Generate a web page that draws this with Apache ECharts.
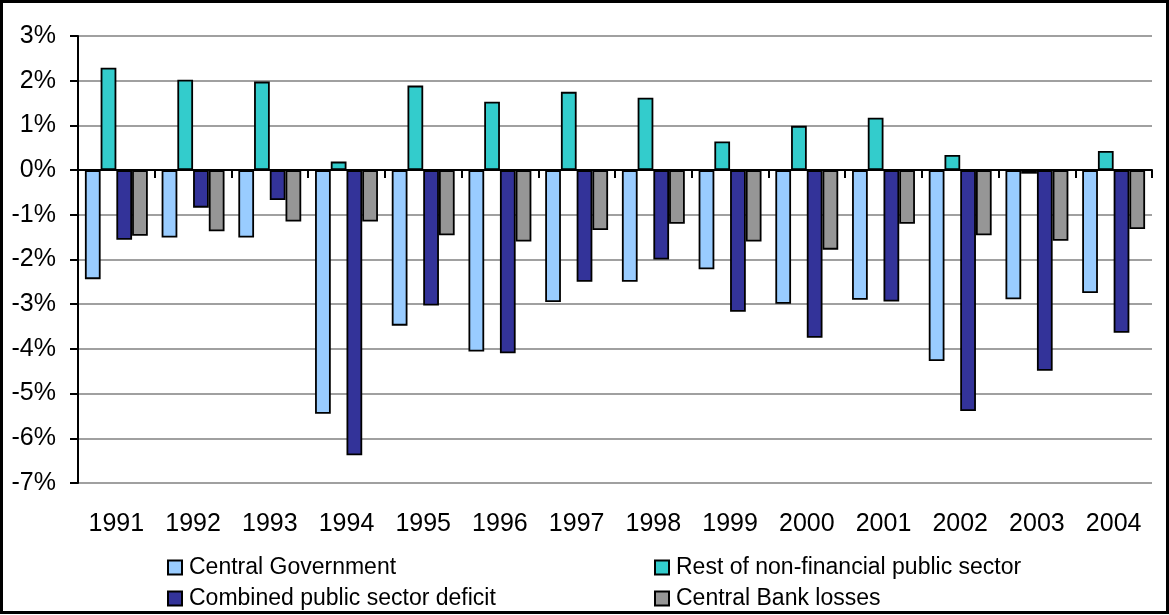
<!DOCTYPE html>
<html>
<head>
<meta charset="utf-8">
<script src="https://cdn.jsdelivr.net/npm/echarts@6/dist/echarts.min.js"></script>
<style>
  html, body { margin: 0; padding: 0; background: #ffffff; }
  #chart { width: 1169px; height: 615px; }
</style>
</head>
<body>
<div id="chart"></div>
<script>
// Public sector balance by component, % of GDP
const years = ['1991', '1992', '1993', '1994', '1995', '1996', '1997',
               '1998', '1999', '2000', '2001', '2002', '2003', '2004'];

const centralGovernment = [-2.44, -1.51, -1.51, -5.45, -3.48, -4.06, -2.95,
                           -2.50, -2.22, -2.99, -2.90, -4.27, -2.89, -2.75];
const restNonFinancial = [2.29, 2.02, 1.98, 0.19, 1.89, 1.53, 1.75,
                          1.62, 0.64, 0.99, 1.17, 0.34, -0.08, 0.43];
const combinedDeficit = [-1.56, -0.84, -0.67, -6.38, -3.03, -4.10, -2.50,
                         -2.00, -3.17, -3.75, -2.94, -5.39, -4.49, -3.64];
const centralBankLosses = [-1.47, -1.37, -1.15, -1.15, -1.46, -1.60, -1.34,
                           -1.20, -1.60, -1.78, -1.20, -1.46, -1.58, -1.32];

const yMin = -7, yMax = 3, yStep = 1;

const FONT = '"Liberation Sans", Arial, sans-serif';

function barSeries(name, data, color) {
  return {
    name: name,
    type: 'bar',
    xAxisIndex: 0,
    data: data,
    barGap: '0%',
    barCategoryGap: '18%',
    itemStyle: { color: color, borderColor: '#000000', borderWidth: 1.8 },
    emphasis: { disabled: true }
  };
}

function legendColumn(names, left) {
  return {
    data: names,
    orient: 'vertical',
    left: left,
    top: 556,
    padding: 0,
    itemWidth: 14,
    itemHeight: 14,
    itemGap: 8,
    icon: 'rect',
    selectedMode: false,
    textStyle: { color: '#000000', fontSize: 23, fontFamily: FONT, padding: [0, 0, 0, 2] }
  };
}

const chart = echarts.init(document.getElementById('chart'), null, { renderer: 'canvas' });

chart.setOption({
  animation: false,
  backgroundColor: '#ffffff',
  textStyle: { fontFamily: FONT },
  grid: { left: 78, right: 17, top: 36, bottom: 132, containLabel: false },
  xAxis: [
    {
      // category labels along the bottom
      type: 'category',
      data: years,
      position: 'bottom',
      axisLine: { show: false, onZero: false },
      axisTick: { show: false },
      splitLine: { show: false },
      axisLabel: { color: '#000000', fontSize: 25, fontFamily: FONT, margin: 29 }
    },
    {
      // baseline at zero with boundary ticks
      type: 'category',
      data: years,
      position: 'bottom',
      axisLine: { show: true, onZero: true, lineStyle: { color: '#000000', width: 2 } },
      axisTick: { show: true, alignWithLabel: false, length: 8, lineStyle: { color: '#000000', width: 2 } },
      axisLabel: { show: false },
      splitLine: { show: false }
    }
  ],
  yAxis: {
    type: 'value',
    min: yMin,
    max: yMax,
    interval: yStep,
    axisLine: { show: true, lineStyle: { color: '#000000', width: 2 } },
    axisTick: { show: true, length: 8, lineStyle: { color: '#000000', width: 2 } },
    axisLabel: {
      color: '#000000', fontSize: 25, fontFamily: FONT, margin: 22,
      formatter: function (v) { return v + '%'; }
    },
    splitLine: { show: true, lineStyle: { color: '#808080', width: 1.5 } }
  },
  legend: [
    legendColumn(['Central Government', 'Combined public sector deficit'], 167),
    legendColumn(['Rest of non-financial public sector', 'Central Bank losses'], 654)
  ],
  graphic: [
    {
      type: 'rect',
      silent: true,
      z: 100,
      shape: { x: 1.5, y: 1.5, width: 1166, height: 611 },
      style: { fill: null, stroke: '#000000', lineWidth: 3 }
    }
  ],
  series: [
    barSeries('Central Government', centralGovernment, '#99CCFF'),
    barSeries('Rest of non-financial public sector', restNonFinancial, '#33CCCC'),
    barSeries('Combined public sector deficit', combinedDeficit, '#333399'),
    barSeries('Central Bank losses', centralBankLosses, '#969696')
  ]
});
</script>
</body>
</html>
